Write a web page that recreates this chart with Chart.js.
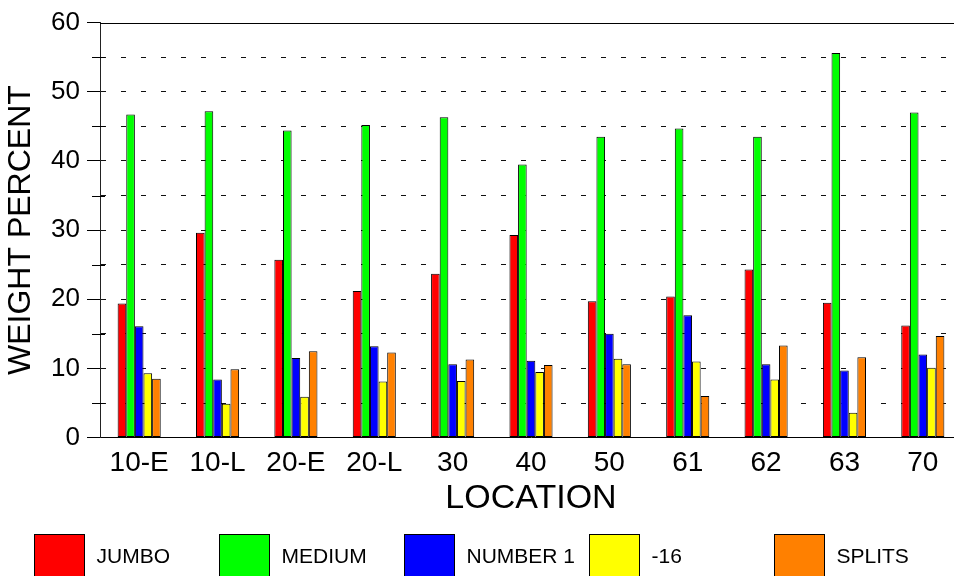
<!DOCTYPE html>
<html>
<head>
<meta charset="utf-8">
<script src="https://cdn.jsdelivr.net/npm/chart.js@4/dist/chart.umd.min.js"></script>
<style>
  html, body { margin: 0; padding: 0; overflow: hidden; background: #fff; }
  #wrap { width: 962px; height: 576px; }
</style>
</head>
<body>
<div id="wrap"><canvas id="c" width="962" height="576"></canvas></div>
<script>
// Sampling locations along the x axis
const locations = ['10-E', '10-L', '20-E', '20-L', '30', '40', '50', '61', '62', '63', '70'];

// Weight percent of each grade at every location
const jumbo   = [19.4, 29.6, 25.7, 21.2, 23.7, 29.3, 19.7, 20.4, 24.3, 19.5, 16.2];
const medium  = [46.7, 47.2, 44.4, 45.2, 46.3, 39.5, 43.5, 44.7, 43.5, 55.6, 47.0];
const number1 = [16.1,  8.4, 11.5, 13.2, 10.6, 11.1, 15.0, 17.7, 10.6,  9.7, 12.0];
const minus16 = [ 9.3,  4.9,  5.9,  8.1,  8.2,  9.5, 11.4, 11.0,  8.4,  3.6, 10.1];
const splits  = [ 8.5,  9.9, 12.5, 12.3, 11.3, 10.5, 10.6,  6.0, 13.3, 11.6, 14.7];

const seriesNames = ['JUMBO', 'MEDIUM', 'NUMBER 1', '-16', 'SPLITS'];
const seriesColors = ['#ff0000', '#00ff00', '#0000ff', '#ffff00', '#ff8000'];
const seriesValues = [jumbo, medium, number1, minus16, splits];

// y axis: 0..60, labelled every 10, ticks every 5
const yMin = 0, yMax = 60, yStep = 5, yLabelEvery = 10;

const FONT = "'Liberation Sans', Arial, sans-serif";

const isMajor = v => v % yLabelEvery === 0;

// Solid frame line across the top of the plot area, plus the short
// minor tick marks that straddle the y axis line
const frameAndMinorTicks = {
  id: 'frameAndMinorTicks',
  afterDraw(chart) {
    const { ctx, chartArea: a } = chart;
    const yScale = chart.scales.y;
    ctx.save();
    ctx.strokeStyle = '#000';
    ctx.lineWidth = 1;
    ctx.beginPath();
    ctx.moveTo(a.left, Math.round(a.top) + 0.5);
    ctx.lineTo(a.right, Math.round(a.top) + 0.5);
    yScale.ticks.forEach(t => {
      if (isMajor(t.value)) return;
      const y = Math.round(yScale.getPixelForValue(t.value)) + 0.5;
      ctx.moveTo(a.left - 8, y);
      ctx.lineTo(a.left + 5, y);
    });
    ctx.stroke();
    ctx.restore();
  }
};

// Evenly spaced legend row along the bottom edge
const boxLegend = {
  id: 'boxLegend',
  afterDraw(chart) {
    const ctx = chart.ctx;
    const startX = 34.5, stepX = 185, boxTop = 534.5, boxW = 50, boxH = 50, textGap = 12;
    ctx.save();
    ctx.font = '21px ' + FONT;
    ctx.textBaseline = 'middle';
    ctx.textAlign = 'left';
    chart.data.datasets.forEach((ds, i) => {
      const x = startX + stepX * i;
      ctx.fillStyle = ds.backgroundColor;
      ctx.fillRect(x, boxTop, boxW, boxH);
      ctx.strokeStyle = '#000';
      ctx.lineWidth = 1;
      ctx.strokeRect(x, boxTop, boxW, boxH);
      ctx.fillStyle = '#000';
      ctx.fillText(ds.label, x + boxW + textGap, 557);
    });
    ctx.restore();
  }
};

const datasets = seriesNames.map((name, i) => ({
  label: name,
  data: seriesValues[i],
  backgroundColor: seriesColors[i],
  borderColor: '#000',
  borderWidth: 1,
  borderSkipped: false,
  categoryPercentage: 0.55,
  barPercentage: 1.0
}));

new Chart(document.getElementById('c'), {
  type: 'bar',
  data: { labels: locations, datasets },
  options: {
    responsive: false,
    animation: false,
    devicePixelRatio: 1,
    layout: { padding: { top: 18, right: 0, left: 0, bottom: 57 } },
    plugins: {
      legend: { display: false },
      tooltip: { enabled: false },
      title: { display: false }
    },
    scales: {
      x: {
        afterFit(scale) { scale.height = scale.height - 11; },
        grid: { display: false, drawTicks: false },
        border: { display: true, color: '#000', width: 1 },
        ticks: {
          color: '#000',
          font: { family: FONT, size: 28 },
          padding: 9,
          maxRotation: 0,
          autoSkip: false
        },
        title: {
          display: true,
          text: 'LOCATION',
          color: '#000',
          font: { family: FONT, size: 34 },
          padding: { top: 0, bottom: 0 }
        }
      },
      y: {
        min: yMin,
        max: yMax,
        afterFit(scale) { scale.width = 100; },
        ticks: {
          stepSize: yStep,
          autoSkip: false,
          color: '#000',
          font: { family: FONT, size: 26 },
          padding: 7,
          callback: v => (isMajor(v) ? String(v) : '')
        },
        grid: {
          color: c => (c.tick && (c.tick.value === yMin || c.tick.value === yMax)) ? 'rgba(0,0,0,0)' : '#111',
          lineWidth: 1,
          tickColor: c => (c.tick && isMajor(c.tick.value)) ? '#000' : 'rgba(0,0,0,0)',
          tickLength: 13
        },
        border: { display: true, color: '#222', width: 1, dash: [5, 15] },
        title: {
          display: true,
          text: 'WEIGHT PERCENT',
          color: '#000',
          font: { family: FONT, size: 32 },
          padding: { top: 2, bottom: 0 }
        }
      }
    }
  },
  plugins: [frameAndMinorTicks, boxLegend]
});
</script>
</body>
</html>
